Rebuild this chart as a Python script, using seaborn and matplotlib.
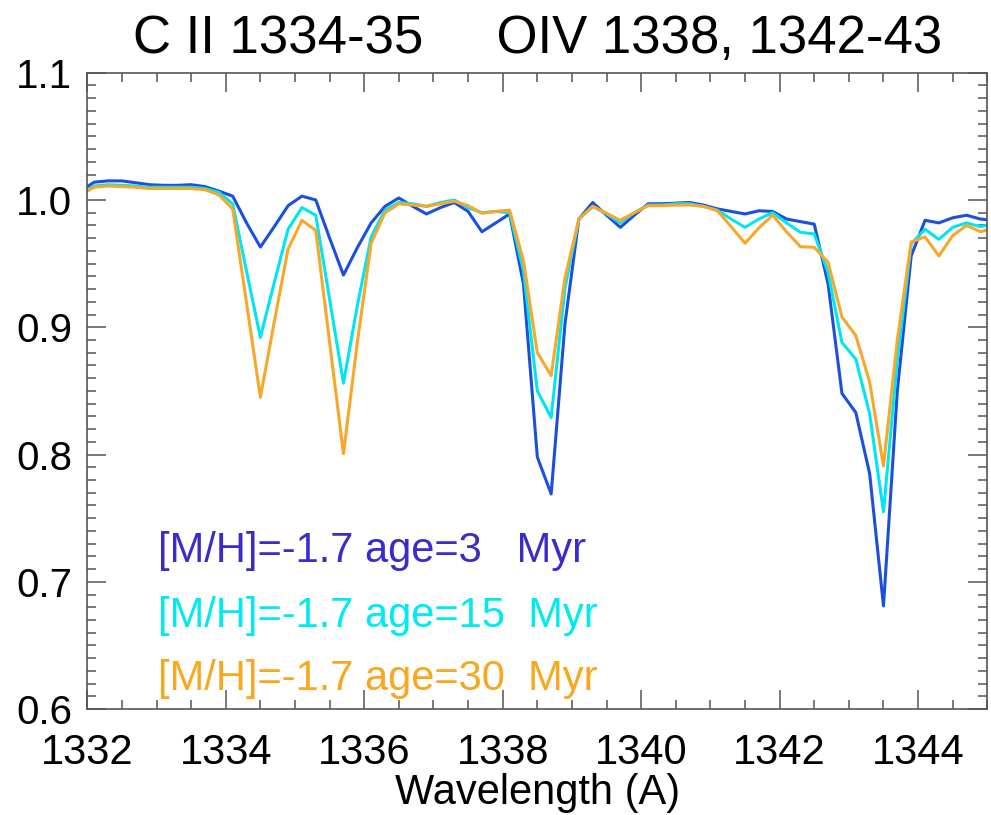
import numpy as np
import pandas as pd
import matplotlib
matplotlib.use("Agg")
import matplotlib.pyplot as plt
from matplotlib.ticker import MultipleLocator
import seaborn as sns

# ---- data ----
wavelength = [1331.9 + 0.2 * k for k in range(67)]

flux_3myr = [1.007, 1.014, 1.015, 1.015, 1.0135, 1.012, 1.0115, 1.0115, 1.012, 1.0105,
             1.007, 1.003, 0.982, 0.963, 0.979, 0.9955, 1.003, 1.000, 0.970, 0.941,
             0.9625, 0.982, 0.995, 1.0016, 0.995, 0.989, 0.994, 0.998, 0.991, 0.975,
             0.982, 0.989, 0.934, 0.798, 0.769, 0.903, 0.985, 0.998, 0.988, 0.9785,
             0.988, 0.997, 0.997, 0.9975, 0.998, 0.996, 0.993, 0.991, 0.989, 0.9915,
             0.991, 0.985, 0.983, 0.981, 0.934, 0.848, 0.833, 0.785, 0.681, 0.850,
             0.956, 0.984, 0.982, 0.986, 0.988, 0.985, 0.984]

flux_15myr = [1.005, 1.011, 1.012, 1.0115, 1.011, 1.010, 1.010, 1.010, 1.010, 1.009,
              1.006, 0.997, 0.944, 0.892, 0.935, 0.977, 0.994, 0.988, 0.922, 0.856,
              0.917, 0.971, 0.992, 0.998, 0.997, 0.995, 0.998, 1.000, 0.994, 0.990,
              0.991, 0.990, 0.9445, 0.850, 0.829, 0.931, 0.985, 0.995, 0.989, 0.982,
              0.990, 0.996, 0.996, 0.997, 0.997, 0.995, 0.992, 0.985, 0.9785, 0.985,
              0.990, 0.982, 0.9746, 0.9733, 0.943, 0.888, 0.875, 0.832, 0.755, 0.874,
              0.9655, 0.977, 0.969, 0.9785, 0.982, 0.979, 0.981]

flux_30myr = [1.004, 1.010, 1.011, 1.0105, 1.010, 1.009, 1.009, 1.009, 1.009, 1.008,
              1.004, 0.993, 0.919, 0.845, 0.904, 0.9615, 0.984, 0.976, 0.888, 0.8006,
              0.888, 0.966, 0.990, 0.997, 0.996, 0.995, 0.997, 0.999, 0.9955, 0.9895,
              0.991, 0.992, 0.9524, 0.880, 0.862, 0.939, 0.985, 0.995, 0.9895, 0.984,
              0.990, 0.9955, 0.9955, 0.996, 0.996, 0.995, 0.9916, 0.979, 0.966, 0.978,
              0.988, 0.975, 0.9633, 0.9628, 0.951, 0.908, 0.8935, 0.857, 0.791, 0.890,
              0.967, 0.971, 0.956, 0.972, 0.980, 0.975, 0.978]

series_labels = ["[M/H]=-1.7 age=3   Myr",
                 "[M/H]=-1.7 age=15  Myr",
                 "[M/H]=-1.7 age=30  Myr"]
line_colors = ["#1c4fdc", "#00e6f0", "#f7a72a"]
text_colors = ["#3a2ccc", "#00eaf2", "#f7a820"]

title_text = "C II 1334-35     OIV 1338, 1342-43"
x_label = "Wavelength (A)"

# ---- long-form table ----
df = pd.DataFrame({
    "wavelength": wavelength * 3,
    "flux": flux_3myr + flux_15myr + flux_30myr,
    "model": [series_labels[0]] * len(wavelength)
             + [series_labels[1]] * len(wavelength)
             + [series_labels[2]] * len(wavelength),
})

sns.set_style("ticks")
plt.rcParams["font.family"] = ["Liberation Sans", "DejaVu Sans"]
plt.rcParams["text.color"] = "black"
plt.rcParams["xtick.labelcolor"] = "black"
plt.rcParams["ytick.labelcolor"] = "black"
plt.rcParams["axes.labelcolor"] = "black"

fig = plt.figure(figsize=(9.91, 8.15), dpi=100)
ax = fig.add_axes([0.0881, 0.130, 0.9082, 0.7808])

sns.lineplot(data=df, x="wavelength", y="flux", hue="model",
             palette=dict(zip(series_labels, line_colors)),
             linewidth=2.2, legend=False, ax=ax, sort=False)

ax.set_xlim(1332, 1345)
ax.set_ylim(0.6, 1.1)
ax.xaxis.set_major_locator(MultipleLocator(2))
ax.xaxis.set_minor_locator(MultipleLocator(0.5))
ax.yaxis.set_major_locator(MultipleLocator(0.1))
ax.yaxis.set_minor_locator(MultipleLocator(0.01))
ax.yaxis.set_major_formatter(plt.FormatStrFormatter("%.1f"))

spine_color = "#555555"
for s in ax.spines.values():
    s.set_color(spine_color)
    s.set_linewidth(1.2)

ax.tick_params(which="both", direction="in", top=True, right=True,
               color=spine_color, width=1.1)
ax.tick_params(which="major", length=13.5)
ax.tick_params(which="minor", length=6.5)
ax.tick_params(axis="x", which="major", labelsize=30, pad=17)
ax.tick_params(axis="y", which="major", labelsize=29, pad=11)

ax.set_xlabel(x_label, fontsize=30, labelpad=0)
ax.set_ylabel("")
ax.set_title(title_text, fontsize=38, pad=14)

# annotations (legend as coloured text)
text_y = [0.7153, 0.6643, 0.6149]
for lbl, col, ty in zip(series_labels, text_colors, text_y):
    ax.text(1333.02, ty, lbl, color=col, fontsize=30, va="baseline", ha="left")

fig.savefig("out.png", dpi=100)
